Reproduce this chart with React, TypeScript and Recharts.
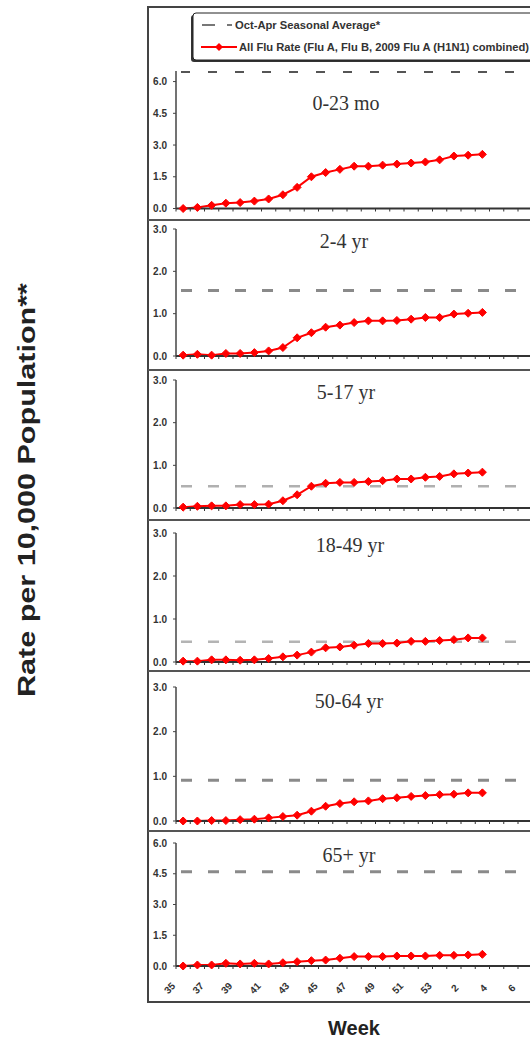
import { LineChart, Line, XAxis, YAxis, ReferenceLine } from 'recharts'

// ---------------------------------------------------------------------------
// Data
// ---------------------------------------------------------------------------

// MMWR weeks on the category axis, 2009 week 35 → 2010
const WEEKS = [35, 36, 37, 38, 39, 40, 41, 42, 43, 44, 45, 46, 47, 48, 49, 50, 51, 52, 53, 1, 2, 3, 4, 5, 6, 7, 8]

const PANEL_LABELS = ['0-23 mo', '2-4 yr', '5-17 yr', '18-49 yr', '50-64 yr', '65+ yr']

// Oct-Apr seasonal average, one value per age group
const SEASONAL_AVG = [6.45, 1.55, 0.51, 0.47, 0.91, 4.6]

const RATE_0_23MO = [0, 0.05, 0.15, 0.25, 0.28, 0.35, 0.45, 0.65, 1.0, 1.5, 1.7, 1.85, 2.0, 2.0, 2.05, 2.1, 2.15, 2.2, 2.3, 2.48, 2.52, 2.56]
const RATE_2_4YR = [0.02, 0.04, 0.02, 0.06, 0.06, 0.08, 0.12, 0.2, 0.43, 0.55, 0.68, 0.73, 0.79, 0.83, 0.83, 0.84, 0.87, 0.91, 0.91, 0.99, 1.01, 1.03]
const RATE_5_17YR = [0.02, 0.04, 0.05, 0.05, 0.08, 0.08, 0.09, 0.17, 0.31, 0.51, 0.58, 0.6, 0.6, 0.62, 0.64, 0.68, 0.68, 0.72, 0.74, 0.8, 0.82, 0.84]
const RATE_18_49YR = [0.02, 0.02, 0.05, 0.05, 0.04, 0.05, 0.08, 0.12, 0.16, 0.23, 0.33, 0.35, 0.39, 0.43, 0.43, 0.44, 0.48, 0.48, 0.5, 0.52, 0.56, 0.56]
const RATE_50_64YR = [0, 0, 0.01, 0.01, 0.03, 0.04, 0.07, 0.1, 0.13, 0.22, 0.33, 0.39, 0.43, 0.45, 0.5, 0.52, 0.55, 0.57, 0.59, 0.6, 0.63, 0.63]
const RATE_65YR = [0, 0.05, 0.05, 0.13, 0.1, 0.13, 0.1, 0.16, 0.21, 0.26, 0.29, 0.38, 0.46, 0.46, 0.46, 0.49, 0.49, 0.49, 0.52, 0.52, 0.54, 0.57]

const RATES = [RATE_0_23MO, RATE_2_4YR, RATE_5_17YR, RATE_18_49YR, RATE_50_64YR, RATE_65YR]

const Y_TICKS_WIDE = [0, 1.5, 3, 4.5, 6]
const Y_TICKS_NARROW = [0, 1, 2, 3]

// ---------------------------------------------------------------------------
// Layout (pixel geometry of each panel's plot area and styling)
// ---------------------------------------------------------------------------

const PLOT_LEFT = 176
const BAND = 14.25
const N_CAT = WEEKS.length
const TOP_PAD = 8 // room above the plot so the top tick label is not clipped

const PANELS = [
  { top: 70.5, height: 137.5, yMax: 6.5, ticks: Y_TICKS_WIDE, title: [346, 110], avgColor: '#555', avgWidth: 2, avgDash: '9 18' },
  { top: 229, height: 127, yMax: 3, ticks: Y_TICKS_NARROW, title: [344, 248], avgColor: '#8a8a8a', avgWidth: 3, avgDash: '11 16' },
  { top: 380, height: 128, yMax: 3, ticks: Y_TICKS_NARROW, title: [346, 399], avgColor: '#b0b0b0', avgWidth: 2.5, avgDash: '11 16' },
  { top: 533, height: 129, yMax: 3, ticks: Y_TICKS_NARROW, title: [350, 552], avgColor: '#b4b4b4', avgWidth: 2.5, avgDash: '11 16' },
  { top: 687, height: 134, yMax: 3, ticks: Y_TICKS_NARROW, title: [349, 708], avgColor: '#8a8a8a', avgWidth: 3, avgDash: '11 16' },
  { top: 843, height: 123, yMax: 6, ticks: Y_TICKS_WIDE, title: [349, 862], avgColor: '#8a8a8a', avgWidth: 3, avgDash: '11 16' },
]

const SEPARATORS = [220, 370, 520, 671, 831]

// category boundaries carry the little tick marks
const BOUNDARIES = Array.from({ length: N_CAT + 1 }, (_, k) => k - 0.5)

const AXIS_FONT = '"Liberation Sans", Arial, sans-serif'

function Diamond(props: any) {
  const { cx, cy, index } = props
  if (cx == null || cy == null) return <g key={index} />
  const r = 4
  return (
    <path
      key={index}
      d={`M${cx},${cy - r} L${cx + r},${cy} L${cx},${cy + r} L${cx - r},${cy} Z`}
      fill="#ff0000"
      stroke="#ff0000"
      strokeWidth={1}
    />
  )
}

function WeekTick(props: any) {
  const { x, y, payload } = props
  const k = payload.value + 0.5
  if (k % 2 !== 0 || k > 24) return <g />
  const cx = x + BAND / 2 - 13.5
  const cy = y + 17
  return (
    <text
      x={cx}
      y={cy}
      transform={`rotate(-45 ${cx} ${cy})`}
      textAnchor="middle"
      dominantBaseline="central"
      fontSize={10}
      fontWeight="bold"
      fontFamily={AXIS_FONT}
      fill="#333"
    >
      {WEEKS[k]}
    </text>
  )
}

function Panel({ idx }: { idx: number }) {
  const p = PANELS[idx]
  const isLast = idx === PANELS.length - 1
  const xAxisH = isLast ? 36 : 6
  const data = RATES[idx].map((rate, i) => ({ i, week: WEEKS[i], rate }))
  const width = PLOT_LEFT - 140 + BAND * N_CAT

  return (
    <div style={{ position: 'absolute', left: 140, top: p.top - TOP_PAD }}>
      <LineChart
        width={width}
        height={p.height + xAxisH + TOP_PAD}
        data={data}
        margin={{ top: TOP_PAD, right: 0, bottom: 0, left: 0 }}
      >
        <XAxis
          dataKey="i"
          type="number"
          domain={[-0.5, N_CAT - 0.5]}
          ticks={BOUNDARIES}
          interval={0}
          height={xAxisH}
          tickSize={3}
          axisLine={{ stroke: '#333', strokeWidth: 2 }}
          tickLine={{ stroke: '#333' }}
          tick={isLast ? <WeekTick /> : () => <g />}
        />
        <YAxis
          type="number"
          domain={[0, p.yMax]}
          ticks={p.ticks}
          interval={0}
          width={PLOT_LEFT - 140}
          tickSize={3}
          tickMargin={6}
          tickFormatter={(v: number) => v.toFixed(1)}
          axisLine={{ stroke: '#444', strokeWidth: 1.5 }}
          tickLine={{ stroke: '#444' }}
          tick={{ fontSize: 10, fontWeight: 'bold', fontFamily: AXIS_FONT, fill: '#333' }}
        />
        <ReferenceLine
          y={SEASONAL_AVG[idx]}
          stroke={p.avgColor}
          strokeWidth={p.avgWidth}
          strokeDasharray={p.avgDash}
          strokeDashoffset={-5}
          ifOverflow="visible"
        />
        <Line
          type="linear"
          dataKey="rate"
          stroke="#ff0000"
          strokeWidth={2}
          dot={Diamond}
          activeDot={false}
          isAnimationActive={false}
        />
      </LineChart>
    </div>
  )
}

export default function App() {
  return (
    <div
      style={{
        position: 'absolute',
        left: 0,
        top: 0,
        width: 530,
        height: 1041,
        overflow: 'hidden',
        background: '#fff',
      }}
    >
      {PANELS.map((_, i) => (
        <Panel key={i} idx={i} />
      ))}

      <svg
        width={530}
        height={1041}
        style={{ position: 'absolute', left: 0, top: 0, pointerEvents: 'none' }}
      >
        {/* outer frame and panel separators */}
        <rect x={148} y={7} width={420} height={995} fill="none" stroke="#444" strokeWidth={2} />
        {SEPARATORS.map(y => (
          <line key={y} x1={148} x2={530} y1={y} y2={y} stroke="#555" strokeWidth={2} />
        ))}

        {/* legend */}
        <rect x={191} y={15} width={360} height={47} rx={3} fill="#333" />
        <rect x={193} y={13} width={360} height={47} rx={3} fill="#fff" stroke="#222" strokeWidth={1} />
        <line x1={202} x2={232} y1={25} y2={25} stroke="#777" strokeWidth={2} strokeDasharray="13 12 5" />
        <text x={235} y={28.5} fontSize={10.5} fontWeight="bold" fontFamily={AXIS_FONT} fill="#333" textLength={145} lengthAdjust="spacingAndGlyphs">
          Oct-Apr Seasonal Average*
        </text>
        <line x1={201} x2={237} y1={47} y2={47} stroke="#ff0000" strokeWidth={2} />
        <path d="M219,43 L223,47 L219,51 L215,47 Z" fill="#ff0000" />
        <text x={239} y={50.5} fontSize={10.5} fontWeight="bold" fontFamily={AXIS_FONT} fill="#333" textLength={290} lengthAdjust="spacingAndGlyphs">
          All Flu Rate (Flu A, Flu B, 2009 Flu A (H1N1) combined)
        </text>

        {/* panel titles */}
        {PANELS.map((p, i) => (
          <text
            key={i}
            x={p.title[0]}
            y={p.title[1]}
            textAnchor="middle"
            fontSize={20}
            fontFamily='"Liberation Serif", "Times New Roman", serif'
            fill="#333"
          >
            {PANEL_LABELS[i]}
          </text>
        ))}

        {/* axis titles */}
        <text
          transform="translate(35 490) rotate(-90)"
          textAnchor="middle"
          fontSize={23}
          fontWeight="bold"
          fontFamily={AXIS_FONT}
          fill="#222"
          textLength={414}
          lengthAdjust="spacingAndGlyphs"
        >
          Rate per 10,000 Population**
        </text>
        <text x={354} y={1035} textAnchor="middle" fontSize={20} fontWeight="bold" fontFamily={AXIS_FONT} fill="#222">
          Week
        </text>
      </svg>
    </div>
  )
}
